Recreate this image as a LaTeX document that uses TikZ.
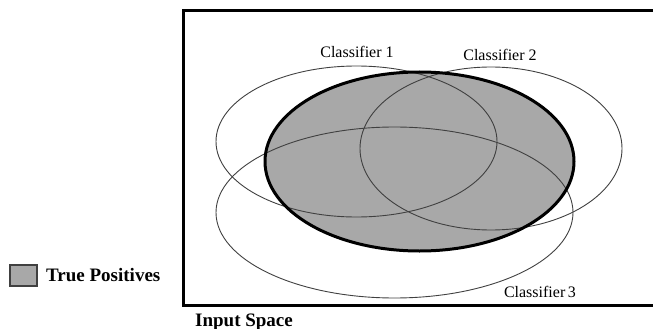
\documentclass[tikz,border=0pt]{standalone}
\usepackage{fontspec}
\setmainfont{Liberation Serif}
\definecolor{tpgray}{gray}{0.66}
\definecolor{linegray}{gray}{0.25}
\begin{document}
\begin{tikzpicture}[x=1pt,y=-1pt,
  thinell/.style={draw=linegray,line width=0.9pt},
  clabel/.style={font=\fontsize{16}{16}\selectfont,anchor=base,inner sep=0pt},
  blabel/.style={font=\fontsize{19}{19}\selectfont\bfseries,anchor=base west,inner sep=0pt}]
\useasboundingbox (0,0) rectangle (653,329);
% frame (right side cut off)
\draw[line width=3pt] (653,11) -- (183,11) -- (183,305) -- (653,305);
% true positives region
\fill[tpgray] (419.5,161.5) ellipse [x radius=154.5, y radius=89.5];
% classifiers
\draw[thinell] (356.5,141.5) ellipse [x radius=140.5, y radius=75.5];
\draw[thinell] (491,148.5) ellipse [x radius=131, y radius=81.5];
\draw[thinell] (394.5,212.5) ellipse [x radius=178.5, y radius=85.5];
\draw[line width=3pt] (419.5,161.5) ellipse [x radius=154.5, y radius=89.5];
% labels
\node[clabel] (c1) at (357,58) {Classifier 1};
\node[clabel] (c2) at (500,60) {Classifier 2};
\node[clabel] (c3) at (540,297) {Classifier\,3};
\node[blabel] (inp) at (195,326) {Input Space};
% legend
\node[draw=linegray,line width=1.2pt,fill=tpgray,minimum width=27pt,minimum height=21pt,inner sep=0pt] (leg) at (23.5,275.5) {};
\node[blabel] (tp) at (46,281) {True Positives};
\end{tikzpicture}
\end{document}
